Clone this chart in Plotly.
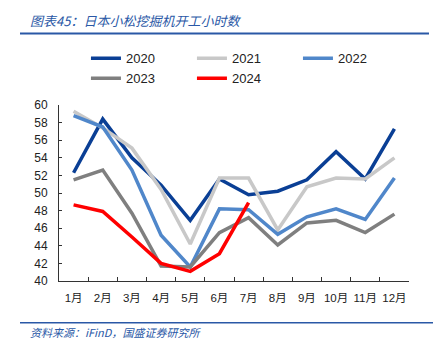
import plotly.graph_objects as go

months = ["1月", "2月", "3月", "4月", "5月", "6月", "7月", "8月", "9月", "10月", "11月", "12月"]
y2020 = [52.3, 58.4, 54.0, 50.9, 46.9, 51.6, 49.8, 50.2, 51.5, 54.7, 51.6, 57.3]
y2021 = [59.3, 57.4, 55.1, 50.4, 44.2, 51.7, 51.7, 45.8, 50.7, 51.7, 51.6, 54.0]
y2022 = [58.8, 57.5, 52.6, 45.2, 41.6, 48.2, 48.1, 45.3, 47.3, 48.2, 47.0, 51.7]
y2023 = [51.5, 52.6, 47.7, 41.7, 41.6, 45.5, 47.2, 44.1, 46.6, 46.9, 45.5, 47.6]
y2024 = [48.65, 47.9, 45.0, 42.0, 41.1, 43.1, 48.9]
yticks = [40, 42, 44, 46, 48, 50, 52, 54, 56, 58, 60]

series = [
    ("2020", y2020, "#0A3F95"),
    ("2021", y2021, "#C8C8C8"),
    ("2022", y2022, "#5087CA"),
    ("2023", y2023, "#7F7F7F"),
    ("2024", y2024, "#FF0000"),
]

FONT = "Arial, Liberation Sans, Noto Sans CJK SC"
BLUE = "#2A58A6"

fig = go.Figure()
for name, vals, color in series:
    fig.add_trace(go.Scatter(
        x=months[:len(vals)], y=vals, name=name, mode="lines",
        line=dict(color=color, width=3.5),
    ))

# page body has an 8px default margin, so the figure is 8px smaller
fig.update_layout(
    width=433, height=349, autosize=False,
    margin=dict(l=51, r=32, t=97, b=76, autoexpand=False),
    paper_bgcolor="white", plot_bgcolor="white",
    font=dict(family=FONT, color="#222222", size=12),
    showlegend=True,
    legend=dict(
        orientation="h", x=0.077, xanchor="left", y=1.35, yanchor="top",
        entrywidth=61, entrywidthmode="pixels",
        font=dict(size=13, color="#222222"),
        tracegroupgap=0, itemwidth=30,
        bgcolor="rgba(0,0,0,0)",
    ),
    xaxis=dict(
        type="category", categoryorder="array", categoryarray=months,
        range=[-0.5, 11.5],
        showline=True, linecolor="#333333", linewidth=1,
        ticks="inside", ticklen=4, tickcolor="#333333", tickson="boundaries",
        showgrid=False, zeroline=False, tickangle=0, automargin=False,
        tickfont=dict(size=11.5, color="#222222"),
        ticklabelstandoff=6,
    ),
    yaxis=dict(
        range=[40, 60], tickvals=yticks, automargin=False,
        showline=True, linecolor="#333333", linewidth=1,
        ticks="inside", ticklen=3, tickcolor="#333333",
        showgrid=False, zeroline=False,
        tickfont=dict(size=12, color="#222222"),
        ticklabelstandoff=8,
    ),
    shapes=[
        dict(type="line", xref="paper", yref="paper",
             x0=(20 - 59) / 350, x1=(429 - 59) / 350,
             y0=(281 - 33.5) / 176, y1=(281 - 33.5) / 176,
             line=dict(color=BLUE, width=2)),
        dict(type="line", xref="paper", yref="paper",
             x0=(20 - 59) / 350, x1=(435 - 59) / 350,
             y0=(281 - 322.7) / 176, y1=(281 - 322.7) / 176,
             line=dict(color=BLUE, width=1.5)),
    ],
    annotations=[
        dict(text="图表45：日本小松挖掘机开工小时数", xref="paper", yref="paper",
             x=(28 - 59) / 350, y=(281 - 20.5) / 176, xanchor="left", yanchor="middle",
             showarrow=False,
             font=dict(family="Noto Sans CJK SC", size=13, color=BLUE, style="italic")),
        dict(text="资料来源：iFinD，国盛证券研究所", xref="paper", yref="paper",
             x=(28 - 59) / 350, y=(281 - 332) / 176, xanchor="left", yanchor="middle",
             showarrow=False,
             font=dict(family="Noto Sans CJK SC", size=11, color=BLUE, style="italic")),
    ],
)

fig.write_html("out.html")
